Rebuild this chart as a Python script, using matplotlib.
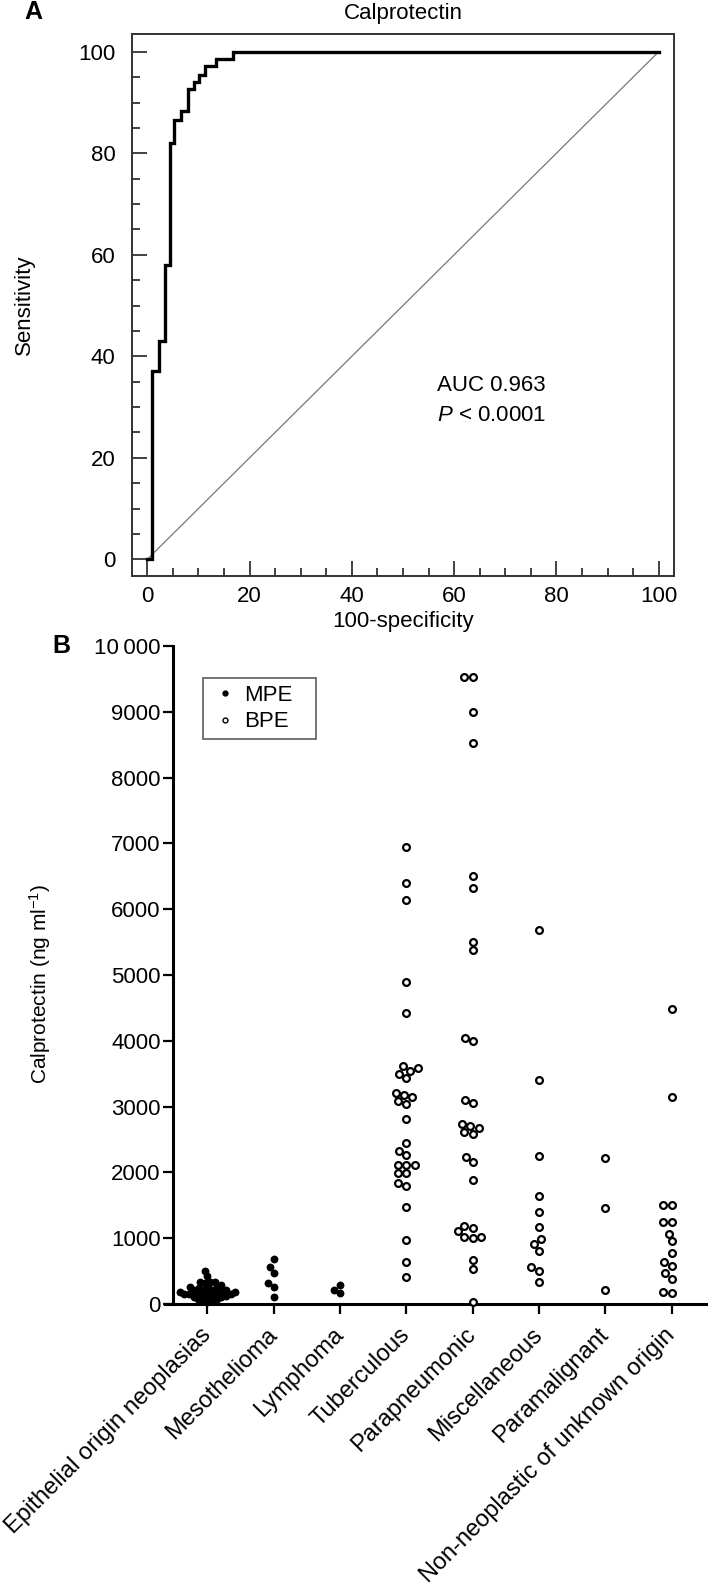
import numpy as np
import matplotlib
matplotlib.use('Agg')
import matplotlib.pyplot as plt
from matplotlib.lines import Line2D
from matplotlib.ticker import MultipleLocator

plt.rcParams['font.family'] = ['Liberation Sans', 'DejaVu Sans']
plt.rcParams['mathtext.fontset'] = 'custom'
plt.rcParams['mathtext.rm'] = 'Liberation Sans'
plt.rcParams['mathtext.it'] = 'Liberation Sans:italic'

# panel A: ROC curve corners (100-specificity, sensitivity)
fpr = [0, 0.9, 2.2, 3.4, 4.5, 5.3, 6.6, 7.9, 9.1, 10.2, 11.2, 13.5, 16.8, 100]
sens = [0, 37.1, 43.0, 57.9, 82.0, 86.6, 88.3, 92.6, 94.0, 95.5, 97.1, 98.6, 100, 100]

# panel B: calprotectin (ng/ml) per group
categories = ['Epithelial origin neoplasias', 'Mesothelioma', 'Lymphoma', 'Tuberculous',
              'Parapneumonic', 'Miscellaneous', 'Paramalignant', 'Non-neoplastic of unknown origin']
epithelial = [25, 60, 65, 75, 80, 105, 110, 110, 115, 140, 140, 145, 145, 150, 170, 175, 178,
              180, 185, 185, 215, 215, 220, 220, 250, 255, 255, 260, 290, 325, 330, 330, 335, 430, 500]
mesothelioma = [680, 560, 470, 320, 260, 100]
lymphoma = [294, 213, 167]
tuberculous = [6943, 6394, 6143, 4888, 4418, 3610, 3548, 3438, 3493, 3587, 3179, 3085, 3046, 3140,
               3203, 2811, 2450, 2320, 2260, 2120, 2120, 2120, 1985, 1985, 1840, 1800, 1470, 968, 631, 412]
parapneumonic = [9530, 9530, 9004, 8526, 6511, 6315, 5508, 5374, 4002, 4042, 3101, 3062, 2732, 2670,
                 2591, 2607, 2709, 2238, 2160, 1880, 1157, 1180, 1102, 1024, 1008, 1024, 671, 537, 30]
miscellaneous = [5688, 3399, 2250, 1647, 1400, 1164, 989, 917, 813, 561, 506, 341]
paramalignant = [2223, 1455, 210]
non_neoplastic = [4488, 3140, 1499, 1499, 1246, 1246, 1071, 950, 769, 643, 577, 467, 385, 182, 160]

mpe_groups = [epithelial, mesothelioma, lymphoma]
bpe_groups = [tuberculous, parapneumonic, miscellaneous, paramalignant, non_neoplastic]


def swarm_x(ax, xc, values, d):
    # simple beeswarm in display pixels, lowest values placed first
    pts = ax.transData.transform(np.column_stack([np.full(len(values), xc), values]))
    order = np.argsort(values, kind='stable')
    placed = []
    offs = np.zeros(len(values))
    for i in order:
        y = pts[i, 1]
        cands = [0.0]
        for px, py in placed:
            dy = abs(py - y)
            if dy < d:
                dx = np.sqrt(d * d - dy * dy)
                cands += [px + dx, px - dx]
        cands.sort(key=lambda c: (abs(c), c))
        for c in cands:
            if all((c - px) ** 2 + (y - py) ** 2 >= d * d - 1e-6 for px, py in placed):
                break
        placed.append((c, y))
        offs[i] = c
    disp = np.column_stack([pts[:, 0] + offs, pts[:, 1]])
    return ax.transData.inverted().transform(disp)[:, 0]


fig = plt.figure(figsize=(7.08, 15.91), dpi=100)

# ---- A ----
ax = fig.add_axes([132 / 708, 1 - 576 / 1591, 542 / 708, 542 / 1591])
ax.plot([0, 100], [0, 100], color='#777777', lw=0.9)
ax.plot(fpr, sens, color='black', lw=2.4, drawstyle='steps-post', solid_joinstyle='miter')
ax.set_xlim(-3, 103)
ax.set_ylim(-3.3, 103.5)
ax.set_xticks(range(0, 101, 20))
ax.set_yticks(range(0, 101, 20))
ax.xaxis.set_minor_locator(MultipleLocator(5))
ax.yaxis.set_minor_locator(MultipleLocator(5))
ax.tick_params(which='both', direction='in', color='#333333', width=1.3, labelsize=16)
ax.tick_params(which='major', length=11)
ax.tick_params(which='minor', length=6)
ax.tick_params(axis='y', pad=12)
ax.tick_params(axis='x', pad=7)
for s in ax.spines.values():
    s.set_color('#333333')
    s.set_linewidth(1.4)
ax.set_title('Calprotectin', fontsize=16, pad=11)
ax.set_xlabel('100-specificity', fontsize=16)
ax.set_ylabel('Sensitivity', fontsize=16)
ax.xaxis.set_label_coords(0.5, -0.064)
ax.yaxis.set_label_coords(-0.179, 0.5)
ax.text(56.7, 34.3, 'AUC 0.963', fontsize=16, va='center')
ax.text(56.7, 28.3, '$P$ < 0.0001', fontsize=16, va='center')
fig.text(33.5 / 708, 1 - 12 / 1591, 'A', fontsize=18, fontweight='bold', ha='center', va='center')

# ---- B ----
bx = fig.add_axes([165 / 708, 1 - 1304 / 1591, 543 / 708, 658 / 1591])
bx.set_xlim(-0.64, 7.55)
bx.set_ylim(0, 10000)
for s in ['top', 'right']:
    bx.spines[s].set_visible(False)
bx.spines['left'].set_position(('data', -0.517))
bx.spines['left'].set_bounds(0, 10000)
bx.spines['left'].set_linewidth(2.2)
bx.spines['bottom'].set_linewidth(2.2)
bx.set_yticks(range(0, 10001, 1000))
bx.set_yticklabels(['10\u2009000' if v == 10000 else str(v) for v in range(0, 10001, 1000)])
bx.set_xticks(range(len(categories)))
bx.set_xticklabels(categories, rotation=45, ha='right', va='center', rotation_mode='anchor')
bx.tick_params(direction='out', length=7, width=1.6, labelsize=16)
bx.tick_params(axis='y', pad=2)
bx.tick_params(axis='x', pad=13, labelsize=17)

for i, vals in enumerate(mpe_groups):
    d = 5.0 if i == 0 else 7.0
    xs = swarm_x(bx, i, vals, d)
    bx.scatter(xs, vals, s=32, color='black', linewidths=0, clip_on=False, zorder=3)
for j, vals in enumerate(bpe_groups):
    xs = swarm_x(bx, j + len(mpe_groups), vals, 8.3)
    bx.scatter(xs, vals, s=24, facecolors='white', edgecolors='black', linewidths=1.6,
               clip_on=False, zorder=3)

bx.set_ylabel('Calprotectin (ng ml$^{-1}$)', fontsize=15)
bx.yaxis.set_label_coords(-0.206, 0.486)

handles = [Line2D([], [], ls='', marker='o', ms=3.5, color='black'),
           Line2D([], [], ls='', marker='o', ms=3.5, mfc='white', mec='black', mew=1)]
leg = bx.legend(handles, ['MPE', 'BPE'], loc='upper left', bbox_to_anchor=(0.07, 0.951, 0.208, 0),
                mode='expand', borderaxespad=0, fontsize=16, frameon=True, fancybox=False,
                borderpad=0.3, labelspacing=0.25, handlelength=1.4, handletextpad=0.15)
leg.get_frame().set_edgecolor('#333333')
leg.get_frame().set_linewidth(1.2)

fig.text(61 / 708, 1 - 646 / 1591, 'B', fontsize=18, fontweight='bold', ha='center', va='center')

fig.savefig('out.png', dpi=100)
